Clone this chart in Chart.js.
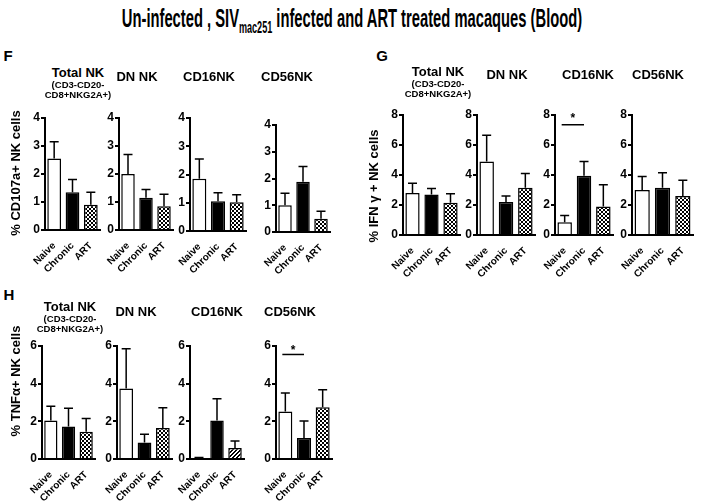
<!DOCTYPE html>
<html><head><meta charset="utf-8">
<script src="https://cdn.jsdelivr.net/npm/chart.js@4.4.0/dist/chart.umd.min.js"></script>
<style>
html,body{margin:0;padding:0;background:#fff;}
body{width:704px;height:501px;overflow:hidden;position:relative;font-family:"Liberation Sans",Arial,sans-serif;color:#000;}
.t{position:absolute;white-space:nowrap;transform:translate(-50%,-50%);font-weight:bold;line-height:1;}
.yl{position:absolute;white-space:nowrap;transform:translate(-50%,-50%) rotate(-90deg);font-weight:bold;font-size:13px;line-height:1;}
canvas{position:absolute;}
#title{position:absolute;left:352px;top:18px;white-space:nowrap;font-family:"Liberation Sans Narrow","Arial Narrow","Liberation Sans",Arial,sans-serif;font-weight:bold;font-size:26px;line-height:1;transform-origin:center center;}
#title sub{font-size:16px;vertical-align:-6px;line-height:0;}
</style></head><body>
<div id="title">Un-infected , SIV<sub>mac251</sub> infected and ART treated macaques (Blood)</div>
<script>
// ---------- data ----------
const categories = ['Naive', 'Chronic', 'ART'];

// Panel F: % CD107a+ NK cells (mean, SEM)
const F_totalNK = [2.55, 1.35, 0.90];  const F_totalNK_sem = [0.60, 0.45, 0.45];
const F_dnNK    = [2.00, 1.15, 0.85];  const F_dnNK_sem    = [0.70, 0.30, 0.43];
const F_cd16NK  = [1.85, 1.05, 1.02];  const F_cd16NK_sem  = [0.70, 0.30, 0.26];
const F_cd56NK  = [1.00, 1.88, 0.50];  const F_cd56NK_sem  = [0.45, 0.57, 0.28];
const F_ticks = [0, 1, 2, 3, 4];

// Panel G: % IFN-gamma+ NK cells
const G_totalNK = [2.80, 2.70, 2.15];  const G_totalNK_sem = [0.65, 0.40, 0.60];
const G_dnNK    = [4.90, 2.20, 3.15];  const G_dnNK_sem    = [1.75, 0.40, 0.95];
const G_cd16NK  = [0.85, 3.95, 1.90];  const G_cd16NK_sem  = [0.45, 0.95, 1.45];
const G_cd56NK  = [3.00, 3.15, 2.60];  const G_cd56NK_sem  = [0.90, 1.00, 1.05];
const G_ticks = [0, 2, 4, 6, 8];

// Panel H: % TNF-alpha+ NK cells
const H_totalNK = [2.05, 1.72, 1.45];  const H_totalNK_sem = [0.75, 0.98, 0.70];
const H_dnNK    = [3.75, 0.88, 1.65];  const H_dnNK_sem    = [2.10, 0.44, 1.07];
const H_cd16NK  = [0.05, 2.05, 0.58];  const H_cd16NK_sem  = [0.03, 1.15, 0.37];
const H_cd56NK  = [2.52, 1.12, 2.75];  const H_cd56NK_sem  = [0.98, 0.90, 0.93];
const H_ticks = [0, 2, 4, 6];

// significance marks: [fromIndex, toIndex, lineValue, starValue]
const G_cd16NK_sig = [0, 1, 7.35, 7.9];
const H_cd56NK_sig = [0, 1, 5.55, 5.85];

// ---------- styling helpers ----------
const FONT = '"Liberation Sans", Arial, sans-serif';
Chart.defaults.font.family = FONT;

function checkerPattern(){
  const c = document.createElement('canvas'); c.width = 4; c.height = 4;
  const x = c.getContext('2d');
  x.fillStyle = '#fff'; x.fillRect(0,0,4,4);
  x.fillStyle = '#000'; x.fillRect(0,0,2,2); x.fillRect(2,2,2,2);
  return x.createPattern(c, 'repeat');
}
function hatchPattern(){
  const c = document.createElement('canvas'); c.width = 4; c.height = 4;
  const x = c.getContext('2d');
  x.fillStyle = '#fff'; x.fillRect(0,0,4,4);
  x.fillStyle = '#000';
  for (let i = 0; i < 4; i++){ x.fillRect(i, 3 - i, 1, 1); x.fillRect((i+1)%4, 3 - i, 1, 1); }
  return x.createPattern(c, 'repeat');
}

function addText(txt, cx, cy, size, cls){
  const d = document.createElement('div');
  d.className = cls || 't';
  d.style.left = cx + 'px'; d.style.top = cy + 'px';
  if (size) d.style.fontSize = size + 'px';
  d.textContent = txt;
  document.body.appendChild(d);
  return d;
}

function makeChart(spec){
  const padL = 30, padB = 54, padT = 12, padR = 6;
  const w = (spec.xEnd - spec.axisX) + padL + padR;
  const h = (spec.yZero - spec.yTop) + padT + padB;
  const cv = document.createElement('canvas');
  cv.width = w; cv.height = h;
  cv.style.width = w + 'px'; cv.style.height = h + 'px';
  cv.style.left = (spec.axisX - padL) + 'px';
  cv.style.top = (spec.yTop - padT) + 'px';
  document.body.appendChild(cv);
  const ticks = spec.ticks;
  const fills = ['#ffffff', '#000000', spec.hatch ? hatchPattern() : checkerPattern()];
  const errPlugin = {
    id: 'errbars',
    afterDatasetsDraw(chart){
      const ctx = chart.ctx, ys = chart.scales.y;
      const meta = chart.getDatasetMeta(0);
      ctx.save();
      ctx.strokeStyle = '#000'; ctx.lineWidth = 1.5;
      meta.data.forEach((el, i) => {
        const yT = ys.getPixelForValue(spec.values[i] + spec.sem[i]);
        ctx.beginPath();
        ctx.moveTo(el.x, el.y); ctx.lineTo(el.x, yT);
        ctx.moveTo(el.x - 4.5, yT); ctx.lineTo(el.x + 4.5, yT);
        ctx.stroke();
      });
      if (spec.sig){
        const [a, b, lv, sv] = spec.sig;
        const xa = meta.data[a].x - 3, xb = meta.data[b].x;
        const yl = ys.getPixelForValue(lv), yst = ys.getPixelForValue(sv);
        ctx.lineWidth = 1.5;
        ctx.beginPath(); ctx.moveTo(xa, yl); ctx.lineTo(xb, yl); ctx.stroke();
        ctx.fillStyle = '#000';
        ctx.font = 'bold 12px ' + FONT;
        ctx.textAlign = 'center'; ctx.textBaseline = 'middle';
        ctx.fillText('*', (xa + xb) / 2, yst + 2);
      }
      ctx.restore();
    }
  };
  new Chart(cv, {
    type: 'bar',
    data: { labels: categories, datasets: [{
      data: spec.values, backgroundColor: fills, borderColor: '#000', borderWidth: 1.5,
      barPercentage: 0.75, categoryPercentage: 1.0
    }]},
    options: {
      responsive: false, animation: false, devicePixelRatio: 1,
      layout: { padding: { top: padT, right: padR, left: 0, bottom: 0 } },
      plugins: { legend: { display: false }, tooltip: { enabled: false } },
      scales: {
        x: {
          grid: { display: false }, border: { color: '#000', width: 2 },
          ticks: { color: '#000', font: { size: 10, weight: 'bold' }, minRotation: 45, maxRotation: 45, autoSkip: false, padding: 2 },
          afterFit(s){ s.height = padB; }
        },
        y: {
          min: ticks[0], max: ticks[ticks.length - 1],
          afterBuildTicks(s){ s.ticks = ticks.map(v => ({ value: v })); },
          ticks: { color: '#000', font: { size: 12, weight: 'bold' }, padding: 1 },
          grid: { drawOnChartArea: false, color: '#000', lineWidth: 2, tickLength: 4 },
          border: { color: '#000', width: 2 },
          afterFit(s){ s.width = padL; }
        }
      }
    },
    plugins: [errPlugin]
  });
}

// ---------- Panel F ----------
makeChart({axisX:45,  xEnd:100, yTop:118, yZero:230, ticks:F_ticks, values:F_totalNK, sem:F_totalNK_sem});
makeChart({axisX:119, xEnd:173, yTop:118, yZero:230, ticks:F_ticks, values:F_dnNK,    sem:F_dnNK_sem});
makeChart({axisX:190, xEnd:246, yTop:118, yZero:231, ticks:F_ticks, values:F_cd16NK,  sem:F_cd16NK_sem});
makeChart({axisX:276, xEnd:330, yTop:125, yZero:232, ticks:F_ticks, values:F_cd56NK,  sem:F_cd56NK_sem});
// ---------- Panel G ----------
makeChart({axisX:403, xEnd:460, yTop:115, yZero:235, ticks:G_ticks, values:G_totalNK, sem:G_totalNK_sem});
makeChart({axisX:477, xEnd:535, yTop:115, yZero:235, ticks:G_ticks, values:G_dnNK,    sem:G_dnNK_sem});
makeChart({axisX:555, xEnd:613, yTop:115, yZero:235, ticks:G_ticks, values:G_cd16NK,  sem:G_cd16NK_sem, sig:G_cd16NK_sig});
makeChart({axisX:632, xEnd:693, yTop:115, yZero:235, ticks:G_ticks, values:G_cd56NK,  sem:G_cd56NK_sem});
// ---------- Panel H ----------
makeChart({axisX:42,  xEnd:95,  yTop:346, yZero:459, ticks:H_ticks, values:H_totalNK, sem:H_totalNK_sem});
makeChart({axisX:117, xEnd:172, yTop:346, yZero:459, ticks:H_ticks, values:H_dnNK,    sem:H_dnNK_sem});
makeChart({axisX:190, xEnd:244, yTop:346, yZero:459, ticks:H_ticks, values:H_cd16NK,  sem:H_cd16NK_sem, hatch:true});
makeChart({axisX:276, xEnd:332, yTop:346, yZero:459, ticks:H_ticks, values:H_cd56NK,  sem:H_cd56NK_sem, sig:H_cd56NK_sig});

// ---------- texts ----------
addText('F', 8, 55, 15);
addText('G', 382, 55, 15);
addText('H', 9, 294, 15);

addText('Total NK', 78, 72, 13);
addText('(CD3-CD20-', 78, 85, 9.5);
addText('CD8+NKG2A+)', 78, 95, 9.5);
addText('DN NK', 137, 76, 13);
addText('CD16NK', 209, 76, 13);
addText('CD56NK', 287, 76, 13);

addText('Total NK', 438, 71, 13);
addText('(CD3-CD20-', 438, 84, 9.5);
addText('CD8+NKG2A+)', 438, 94, 9.5);
addText('DN NK', 507, 74, 13);
addText('CD16NK', 588, 74, 13);
addText('CD56NK', 658, 74, 13);

addText('Total NK', 70, 306, 13);
addText('(CD3-CD20-', 70, 319, 9.5);
addText('CD8+NKG2A+)', 70, 329, 9.5);
addText('DN NK', 136, 311, 13);
addText('CD16NK', 217, 311, 13);
addText('CD56NK', 290, 311, 13);

addText('% CD107a+ NK cells', 15, 173, 13, 'yl');
addText('% IFN \u03B3 + NK cells', 373, 186, 13, 'yl');
addText('% TNF\u03B1+ NK cells', 15, 381, 13, 'yl');

// fit main title into its span in the reference
const tt = document.getElementById('title');
const s = 460 / tt.offsetWidth;
tt.style.transform = 'translate(-50%,-50%) scaleX(' + s.toFixed(3) + ')';
</script>
</body></html>
